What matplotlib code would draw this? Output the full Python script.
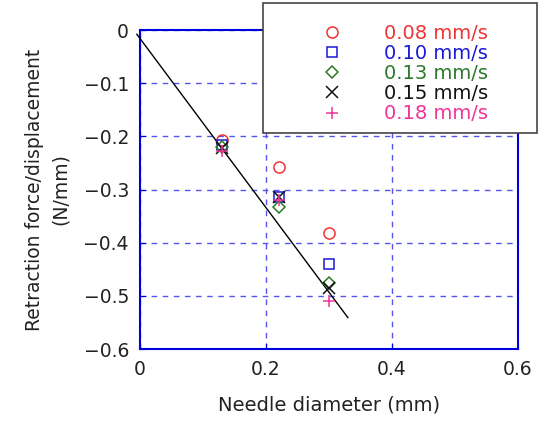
import matplotlib
matplotlib.use('Agg')
import matplotlib.pyplot as plt
from matplotlib.patches import Rectangle

# needle diameters (mm) and retraction force/displacement (N/mm) per speed
diameter = [0.13, 0.22, 0.30]
speeds = ['0.08 mm/s', '0.10 mm/s', '0.13 mm/s', '0.15 mm/s', '0.18 mm/s']
vals_008 = [-0.207, -0.258, -0.381]
vals_010 = [-0.216, -0.315, -0.440]
vals_013 = [-0.220, -0.333, -0.476]
vals_015 = [-0.222, -0.315, -0.485]
vals_018 = [-0.227, -0.320, -0.509]
fit_x = [-0.005, 0.33]
fit_y = [-0.008, -0.541]

series = [vals_008, vals_010, vals_013, vals_015, vals_018]
markers = ['o', 's', 'D', 'x', '+']
msizes = [8, 7.5, 6, 8, 9]
colors = ['#ee3333', '#1a1ad6', '#2a7a2a', '#111111', '#ee3399']

blue = '#0000dd'

fig = plt.figure(figsize=(5.43, 4.25), dpi=100)
ax = fig.add_axes([140/543, 1-349/425, 378/543, 319/425])

ax.set_xlim(0, 0.6)
ax.set_ylim(-0.6, 0)
ax.set_xticks([0, 0.2, 0.4, 0.6])
ax.set_xticklabels(['0', '0.2', '0.4', '0.6'])
ax.set_yticks([0, -0.1, -0.2, -0.3, -0.4, -0.5, -0.6])
ax.set_yticklabels(['0', '\u22120.1', '\u22120.2', '\u22120.3', '\u22120.4', '\u22120.5', '\u22120.6'])
ax.grid(True, color='#5555ee', linestyle=(0, (4, 4)), linewidth=1)
ax.tick_params(direction='in', colors=blue, labelcolor='#222222', labelsize=13.5,
               length=4, pad=8)
for s in ax.spines.values():
    s.set_color(blue)
    s.set_linewidth(1.5)

ax.plot(fit_x, fit_y, color='black', lw=1, zorder=3, clip_on=False)

handles = []
for vals, m, ms, c in zip(series, markers, msizes, colors):
    h, = ax.plot(diameter, vals, linestyle='none', marker=m, ms=ms, mfc='none',
                 mec=c, mew=1.1, zorder=4)
    handles.append(h)

ax.set_xlabel('Needle diameter (mm)', fontsize=14, color='#222222', labelpad=12)
ax.set_ylabel('Retraction force/displacement\n(N/mm)', fontsize=13.5,
              color='#222222', labelpad=10, linespacing=1.45)

# legend box
box = Rectangle((263/543, 1-133/425), 274/543, 130/425, transform=fig.transFigure,
                facecolor='white', edgecolor='#444444', lw=1.2, zorder=5)
fig.patches.append(box)
leg = fig.legend(handles, speeds, loc='upper left',
                 bbox_to_anchor=(308/543, 1-14/425), frameon=False,
                 fontsize=14, labelspacing=0.06, handletextpad=1.9,
                 handlelength=1.5, borderpad=0, labelcolor=colors)
leg.set_zorder(6)

fig.savefig('out.png', dpi=100)
